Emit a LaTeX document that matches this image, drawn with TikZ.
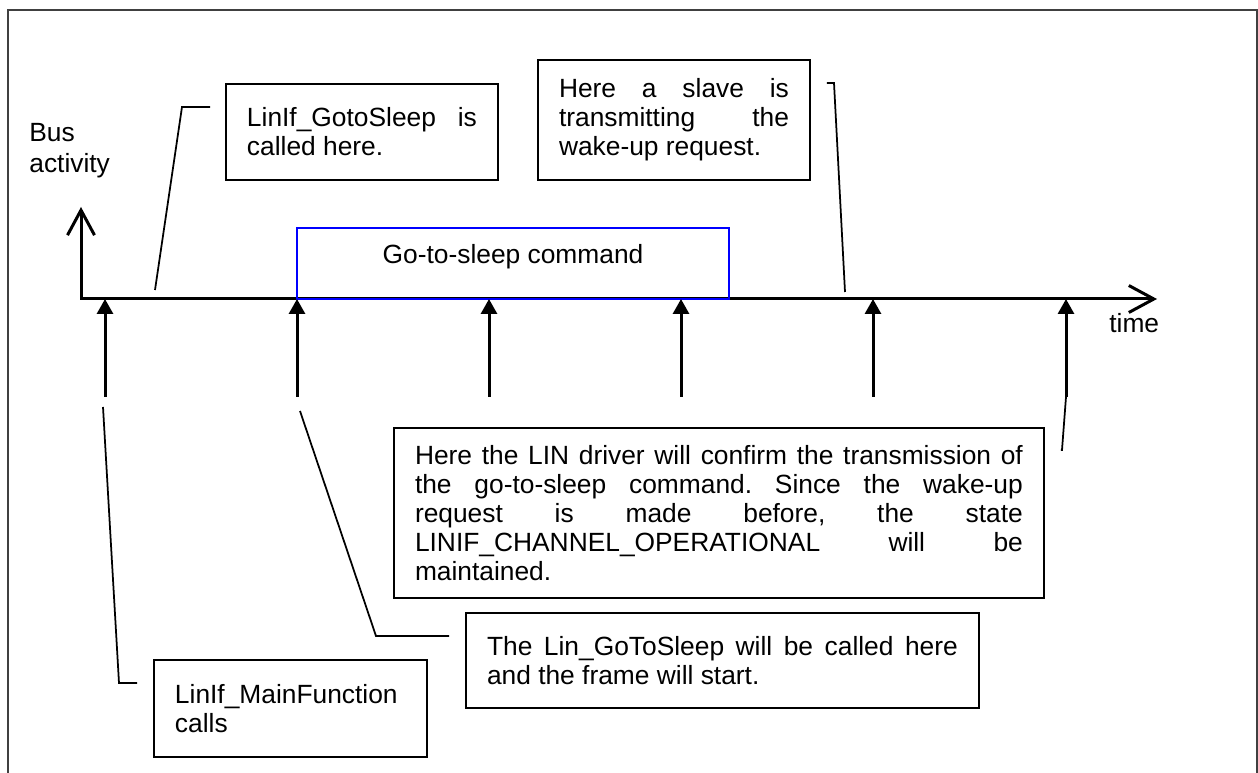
\documentclass[tikz,border=0pt]{standalone}
\usepackage{fontspec}
\setmainfont{Liberation Sans}
\usetikzlibrary{arrows.meta,positioning}
\tolerance=10000
\hbadness=10000
\hyphenpenalty=10000
\exhyphenpenalty=10000
\frenchspacing
\tikzset{note/.style={draw,line width=0.04cm,anchor=north west,align=justify,inner xsep=0.42cm,font=\fontsize{15pt}{16.5pt}\selectfont},tick/.style={line width=0.06cm,-{Triangle[length=0.3cm,width=0.32cm]}}}

\begin{document}
\begin{tikzpicture}[x=0.02cm,y=-0.02cm,callout/.style={line width=0.035cm},axis/.style={line width=0.06cm,{Straight Barb[length=0.5cm,width=0.54cm]}-{Straight Barb[length=0.5cm,width=0.54cm]}}]
			\useasboundingbox (0,0) rectangle (1258,773);
			\draw[line width=0.04cm,black!75] (8,773) |- (1257,10) -- (1257,773);

			\coordinate (o) at (81,299);
			\coordinate (ytop) at (81,207);
			\coordinate (xend) at (1157,299);
			\draw[axis] (ytop) -- (o) -- (xend);
			\node[anchor=north west,align=left,inner sep=0pt,font=\fontsize{15pt}{17.6pt}\selectfont] (bus) at (29,123) {Bus\\activity};
			\node[anchor=base west,inner sep=0pt,font=\fontsize{15pt}{16.5pt}\selectfont] (time) at (1109,333) {time};

			\node[draw=blue,line width=0.04cm,minimum width=8.64cm,minimum height=1.42cm,text height=0.3cm,text depth=0.3cm,font=\fontsize{15pt}{16.5pt}\selectfont] (cmd) at (513,263.5) {Go-to-sleep command};

			\coordinate (t1) at (105,397);
			\coordinate (t2) at (297,397);
			\coordinate (t3) at (489,397);
			\coordinate (t4) at (681,397);
			\coordinate (t5) at (873,397);
			\coordinate (t6) at (1066,397);
			\draw[tick] (t1) -- (t1 |- o);
			\draw[tick] (t2) -- (t2 |- o);
			\draw[tick] (t3) -- (t3 |- o);
			\draw[tick] (t4) -- (t4 |- o);
			\draw[tick] (t5) -- (t5 |- o);
			\draw[tick] (t6) -- (t6 |- o);

			\node[note,text width=4.6cm,minimum height=1.92cm] (gotosleep) at (225,83) {LinIf\_GotoSleep is\linebreak called here.};
			\node[note,text width=4.6cm,minimum height=2.4cm] (slave) at (537,59) {Here a slave is\linebreak transmitting the\linebreak wake-up request.};
			\node[note,text width=12.16cm,minimum height=3.4cm] (confirm) at (393,427) {Here the LIN driver will confirm the transmission of\linebreak the go-to-sleep command. Since the wake-up\linebreak request is made before, the state\linebreak LINIF\_CHANNEL\_OPERATIONAL will be\linebreak maintained.};
			\node[note,text width=9.42cm,minimum height=1.9cm] (linsleep) at (465,612) {The Lin\_GoToSleep will be called here\linebreak and the frame will start.};
			\node[note,text width=4.62cm,minimum height=1.94cm] (mainfn) at (153,659) {LinIf\_MainFunction\linebreak calls};

			\coordinate (g) at (155,290);
			\coordinate (s) at (845,292);
			\coordinate (c1) at (103,407);
			\coordinate (c2) at (300,411);
			\draw[callout] (g) -- (182,107) -- ([xshift=-0.3cm,yshift=-0.48cm]gotosleep.north west);
			\draw[callout] (s) -- (834,83) -- ([xshift=0.32cm,yshift=-0.48cm]slave.north east);
			\draw[callout] (t6) -- (1062,450) -- ([xshift=0.32cm,yshift=-0.46cm]confirm.north east);
			\draw[callout] (c2) -- (376,636) -- ([xshift=-0.32cm,yshift=-0.48cm]linsleep.north west);
			\draw[callout] (c1) -- (119,683) -- ([xshift=-0.32cm,yshift=-0.48cm]mainfn.north west);
		\end{tikzpicture}
\end{document}
